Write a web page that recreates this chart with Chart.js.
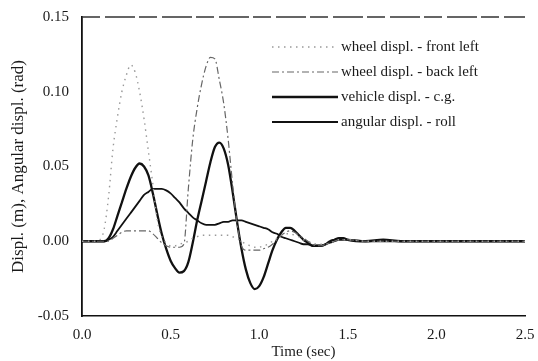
<!DOCTYPE html>
<html>
<head>
<meta charset="utf-8">
<script src="https://cdn.jsdelivr.net/npm/chart.js@4.4.0/dist/chart.umd.min.js"></script>
<style>
  html, body { margin: 0; padding: 0; background: #fff; }
  #wrap { width: 538px; height: 361px; }
</style>
</head>
<body>
<div id="wrap"><canvas id="chart" width="538" height="361"></canvas></div>
<script>
  /* ── Data ── */
  const TIME = [
    0, 0.025, 0.05, 0.075, 0.1, 0.125, 0.15, 0.175, 0.2, 0.225,
    0.25, 0.275, 0.3, 0.325, 0.35, 0.375, 0.4, 0.425, 0.45, 0.475,
    0.5, 0.525, 0.55, 0.575, 0.6, 0.625, 0.65, 0.675, 0.7, 0.725,
    0.75, 0.775, 0.8, 0.825, 0.85, 0.875, 0.9, 0.925, 0.95, 0.975,
    1.0, 1.025, 1.05, 1.075, 1.1, 1.125, 1.15, 1.175, 1.2, 1.225,
    1.25, 1.275, 1.3, 1.325, 1.35, 1.375, 1.4, 1.425, 1.45, 1.475,
    1.5, 1.6, 1.7, 1.8, 1.9, 2.0, 2.1, 2.2, 2.3, 2.4, 2.5
  ];

  const FRONT_LEFT = [
    0, 0, 0, 0, 0.001, 0.008, 0.03, 0.062, 0.083, 0.1,
    0.111, 0.118, 0.113, 0.1, 0.082, 0.06, 0.038, 0.014, 0.003, -0.001,
    -0.003, -0.003, -0.002, -0.001, 0.0, 0.002, 0.003, 0.004, 0.004, 0.004,
    0.004, 0.004, 0.004, 0.004, 0.003, 0.002, 0.0, -0.002, -0.003, -0.004,
    -0.004, -0.003, -0.002, 0.0, 0.002, 0.004, 0.005, 0.005, 0.004, 0.003,
    0.001, 0.0, -0.001, -0.002, -0.002, -0.002, -0.001, 0.0, 0.001, 0.001,
    0.001, 0.0, 0, 0, 0, 0, 0, 0, 0, 0, 0
  ];

  const BACK_LEFT = [
    0, 0, 0, 0, 0, 0, 0, 0.002, 0.004, 0.006,
    0.007, 0.007, 0.007, 0.007, 0.007, 0.007, 0.005, 0.002, -0.001, -0.003,
    -0.004, -0.004, -0.004, -0.002, 0.035, 0.068, 0.089, 0.105, 0.117, 0.123,
    0.122, 0.108, 0.092, 0.068, 0.038, 0.012, -0.003, -0.006, -0.006, -0.006,
    -0.006, -0.005, -0.004, -0.002, 0.001, 0.004, 0.006, 0.007, 0.006, 0.004,
    0.002, 0.0, -0.002, -0.003, -0.003, -0.002, -0.001, 0.0, 0.001, 0.001,
    0.001, 0, 0, 0, 0, 0, 0, 0, 0, 0, 0
  ];

  const VEHICLE_CG = [
    0, 0, 0, 0, 0, 0, 0.002, 0.008, 0.017, 0.026,
    0.035, 0.043, 0.049, 0.052, 0.05, 0.044, 0.032, 0.018, 0.005, -0.005,
    -0.013, -0.018, -0.021, -0.02, -0.014, -0.001, 0.014, 0.027, 0.04, 0.053,
    0.063, 0.066, 0.062, 0.051, 0.033, 0.013, -0.005, -0.019, -0.028, -0.032,
    -0.03, -0.024, -0.015, -0.006, 0.001, 0.006, 0.009, 0.009, 0.007, 0.004,
    0.001, -0.001, -0.003, -0.003, -0.003, -0.002, 0.0, 0.001, 0.002, 0.002,
    0.001, 0.0, 0.001, 0.0, 0, 0, 0, 0, 0, 0, 0
  ];

  const ROLL = [
    0, 0, 0, 0, 0, 0, 0.001, 0.003, 0.007, 0.011,
    0.015, 0.019, 0.023, 0.027, 0.031, 0.033, 0.035, 0.035, 0.035, 0.034,
    0.032, 0.029, 0.026, 0.022, 0.019, 0.016, 0.014, 0.012, 0.011, 0.011,
    0.011, 0.012, 0.013, 0.013, 0.014, 0.014, 0.014, 0.013, 0.012, 0.011,
    0.01, 0.009, 0.008, 0.006, 0.005, 0.003, 0.002, 0.001, 0.0, -0.001,
    -0.002, -0.002, -0.003, -0.003, -0.003, -0.002, -0.001, 0.0, 0.001, 0.001,
    0.001, 0.0, 0, 0, 0, 0, 0, 0, 0, 0, 0
  ];

  const SERIES_LABELS = [
    'wheel displ. - front left',
    'wheel displ. - back left',
    'vehicle displ. - c.g.',
    'angular displ. - roll'
  ];
  const X_TICKS = ['0.0', '0.5', '1.0', '1.5', '2.0', '2.5'];
  const Y_TICKS = ['-0.05', '0.00', '0.05', '0.10', '0.15'];

  const SERIF = "'Liberation Serif', 'DejaVu Serif', serif";

  function points(values) {
    return TIME.map((t, i) => ({ x: t, y: values[i] }));
  }

  /* ── Legend drawn inside the plot, like the original ── */
  const insideLegend = {
    id: 'insideLegend',
    afterDatasetsDraw(chart) {
      const { ctx } = chart;
      const rows = [47, 72, 97, 122];
      chart.data.datasets.forEach((ds, i) => {
        const y = rows[i];
        ctx.save();
        ctx.strokeStyle = ds.borderColor;
        ctx.lineWidth = ds.borderWidth;
        ctx.setLineDash(ds.borderDash || []);
        ctx.beginPath();
        ctx.moveTo(272, y);
        ctx.lineTo(338, y);
        ctx.stroke();
        ctx.setLineDash([]);
        ctx.fillStyle = '#1a1a1a';
        ctx.font = '15px ' + SERIF;
        ctx.textAlign = 'left';
        ctx.textBaseline = 'middle';
        ctx.fillText(ds.label, 341, y);
        ctx.restore();
      });
    }
  };

  /* top frame line, dashed in the scan */
  const topFrame = {
    id: 'topFrame',
    afterDraw(chart) {
      const { ctx, chartArea } = chart;
      ctx.save();
      ctx.strokeStyle = '#333';
      ctx.lineWidth = 1.3;
      ctx.setLineDash([18, 5, 30, 4]);
      ctx.beginPath();
      ctx.moveTo(chartArea.left, chartArea.top);
      ctx.lineTo(chartArea.right, chartArea.top);
      ctx.stroke();
      ctx.restore();
    }
  };

  const ctx = document.getElementById('chart').getContext('2d');
  new Chart(ctx, {
    type: 'line',
    data: {
      datasets: [
        {
          label: SERIES_LABELS[0],
          data: points(FRONT_LEFT),
          borderColor: '#999',
          borderWidth: 1.4,
          borderDash: [1.5, 4.5],
          cubicInterpolationMode: 'monotone'
        },
        {
          label: SERIES_LABELS[1],
          data: points(BACK_LEFT),
          borderColor: '#666',
          borderWidth: 1.2,
          borderDash: [7, 3, 2, 3],
          cubicInterpolationMode: 'monotone'
        },
        {
          label: SERIES_LABELS[2],
          data: points(VEHICLE_CG),
          borderColor: '#111',
          borderWidth: 2.3,
          cubicInterpolationMode: 'monotone'
        },
        {
          label: SERIES_LABELS[3],
          data: points(ROLL),
          borderColor: '#111',
          borderWidth: 1.8,
          cubicInterpolationMode: 'monotone'
        }
      ]
    },
    options: {
      responsive: false,
      animation: false,
      layout: { padding: { top: 17, right: 13, left: 0, bottom: 0 } },
      elements: { point: { radius: 0 }, line: { fill: false } },
      plugins: {
        legend: { display: false },
        tooltip: { enabled: false }
      },
      scales: {
        x: {
          type: 'linear',
          min: 0,
          max: 2.5,
          afterFit(scale) {
            scale.height = 45;
            scale.paddingLeft = 0;
            scale.paddingRight = 0;
          },
          grid: { display: false, drawTicks: false },
          border: { display: true, color: '#111', width: 1.6 },
          ticks: {
            stepSize: 0.5,
            padding: 10,
            color: '#1a1a1a',
            font: { family: SERIF, size: 15 },
            maxRotation: 0,
            callback: (v) => X_TICKS[Math.round(v / 0.5)]
          },
          title: {
            display: true,
            text: 'Time (sec)',
            color: '#1a1a1a',
            font: { family: SERIF, size: 15 },
            padding: { top: 0, bottom: 0 }
          }
        },
        y: {
          min: -0.05,
          max: 0.15,
          afterFit(scale) {
            scale.width = 82;
            scale.paddingTop = 0;
            scale.paddingBottom = 0;
          },
          grid: { display: false, drawTicks: false },
          border: { display: true, color: '#111', width: 1.8 },
          ticks: {
            stepSize: 0.05,
            padding: 13,
            color: '#1a1a1a',
            font: { family: SERIF, size: 15 },
            callback: (v) => Y_TICKS[Math.round((v + 0.05) / 0.05)]
          },
          title: {
            display: true,
            text: 'Displ. (m), Angular displ. (rad)',
            color: '#1a1a1a',
            font: { family: SERIF, size: 17 },
            padding: { top: 8, bottom: 0 }
          }
        }
      }
    },
    plugins: [insideLegend, topFrame]
  });
</script>
</body>
</html>
